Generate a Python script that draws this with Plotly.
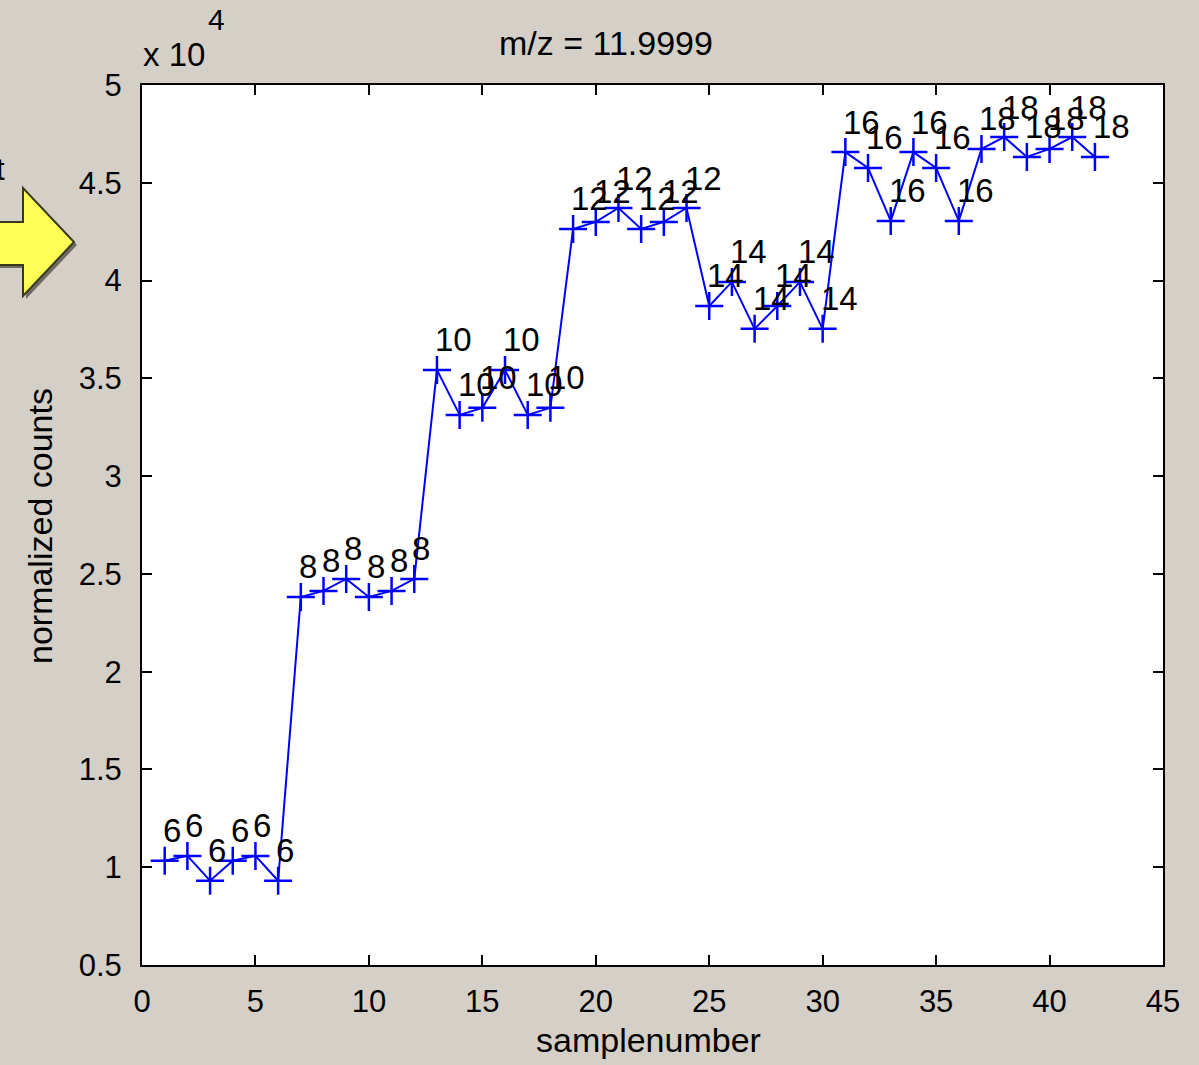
import plotly.graph_objects as go

# ---- data ----
sample = list(range(1, 43))
counts_e4 = [
    1.033, 1.058, 0.931, 1.033, 1.058, 0.931,
    2.382, 2.413, 2.474, 2.382, 2.413, 2.474,
    3.543, 3.313, 3.349, 3.543, 3.313, 3.349,
    4.264, 4.300, 4.371, 4.264, 4.300, 4.371,
    3.870, 3.993, 3.753, 3.870, 3.993, 3.753,
    4.657, 4.576, 4.305, 4.657, 4.576, 4.305,
    4.673, 4.734, 4.632, 4.673, 4.734, 4.632,
]
group_labels = ([6] * 6 + [8] * 6 + [10] * 6 + [12] * 6 + [14] * 6 + [16] * 6 + [18] * 6)
x_ticks = [0, 5, 10, 15, 20, 25, 30, 35, 40, 45]
y_ticks = [0.5, 1, 1.5, 2, 2.5, 3, 3.5, 4, 4.5, 5]
y_tick_text = ["0.5", "1", "1.5", "2", "2.5", "3", "3.5", "4", "4.5", "5"]

FONT = "Liberation Sans, Arial, sans-serif"
BG = "#D4D0C8"

fig = go.Figure()
fig.add_trace(go.Scatter(
    x=sample, y=counts_e4, mode="lines+markers",
    line=dict(color="#0000FF", width=2),
    marker=dict(symbol="cross-thin", size=20, line=dict(color="#0000FF", width=2.5)),
    hoverinfo="skip", showlegend=False,
))

annotations = []
for xv, yv, lab in zip(sample, counts_e4, group_labels):
    annotations.append(dict(
        x=xv, y=yv, xref="x", yref="y", text=str(lab), showarrow=False,
        xanchor="left", yanchor="middle", xshift=-4, yshift=30,
        font=dict(family=FONT, size=33, color="black"),
    ))

def px(xp):
    return (xp - 142) / 1021

def py(yp):
    return (965 - yp) / 880

annotations += [
    dict(x=px(606), y=py(43), xref="paper", yref="paper", text="m/z = 11.9999",
         showarrow=False, xanchor="center", yanchor="middle",
         font=dict(family=FONT, size=34, color="black")),
    dict(x=px(141), y=py(54), xref="paper", yref="paper", text="x 10",
         showarrow=False, xanchor="left", yanchor="middle",
         font=dict(family=FONT, size=33, color="black")),
    dict(x=px(206), y=py(20), xref="paper", yref="paper", text="4",
         showarrow=False, xanchor="left", yanchor="middle",
         font=dict(family=FONT, size=30, color="black")),
    dict(x=px(648), y=py(1040), xref="paper", yref="paper", text="samplenumber",
         showarrow=False, xanchor="center", yanchor="middle",
         font=dict(family=FONT, size=34, color="black")),
    dict(x=px(40), y=py(526), xref="paper", yref="paper", text="normalized counts",
         showarrow=False, xanchor="center", yanchor="middle", textangle=-90,
         font=dict(family=FONT, size=34, color="black")),
    dict(x=px(7), y=py(170), xref="paper", yref="paper", text="t",
         showarrow=False, xanchor="right", yanchor="middle",
         font=dict(family=FONT, size=31, color="black")),
]

# yellow arrow decoration at left edge
pts = [(-5, 222), (23, 222), (23, 188), (74, 242), (23, 296), (23, 265), (-5, 265)]
path = "M " + " L ".join(f"{px(a):.5f},{py(b):.5f}" for a, b in pts) + " Z"
shadow = "M " + " L ".join(f"{px(a + 3):.5f},{py(b + 3):.5f}" for a, b in pts) + " Z"
shapes = [
    dict(type="path", path=shadow, xref="paper", yref="paper",
         fillcolor="#6E6B66", line=dict(width=0), layer="below"),
    dict(type="path", path=path, xref="paper", yref="paper",
         fillcolor="#FFFF55", line=dict(color="#3A3A1A", width=2), layer="above"),
]

axis_common = dict(
    showgrid=False, zeroline=False, showline=True, linecolor="black", linewidth=2,
    mirror="ticks", ticks="inside", ticklen=10, tickwidth=2, tickcolor="black",
    tickfont=dict(family=FONT, size=31, color="black"),
)

fig.update_layout(
    width=1199, height=1065,
    paper_bgcolor=BG, plot_bgcolor="white",
    margin=dict(l=142, r=36, t=85, b=100),
    xaxis=dict(range=[0, 45], tickvals=x_ticks, ticklabelstandoff=8, **axis_common),
    yaxis=dict(range=[0.5, 5], tickvals=y_ticks, ticktext=y_tick_text,
               ticklabelstandoff=12, **axis_common),
    annotations=annotations, shapes=shapes,
)

fig.write_html(
    "out.html",
    config={"displayModeBar": False},
    post_script="document.body.style.margin='0';document.body.style.overflow='hidden';"
                "document.body.style.background='#D4D0C8';",
)
